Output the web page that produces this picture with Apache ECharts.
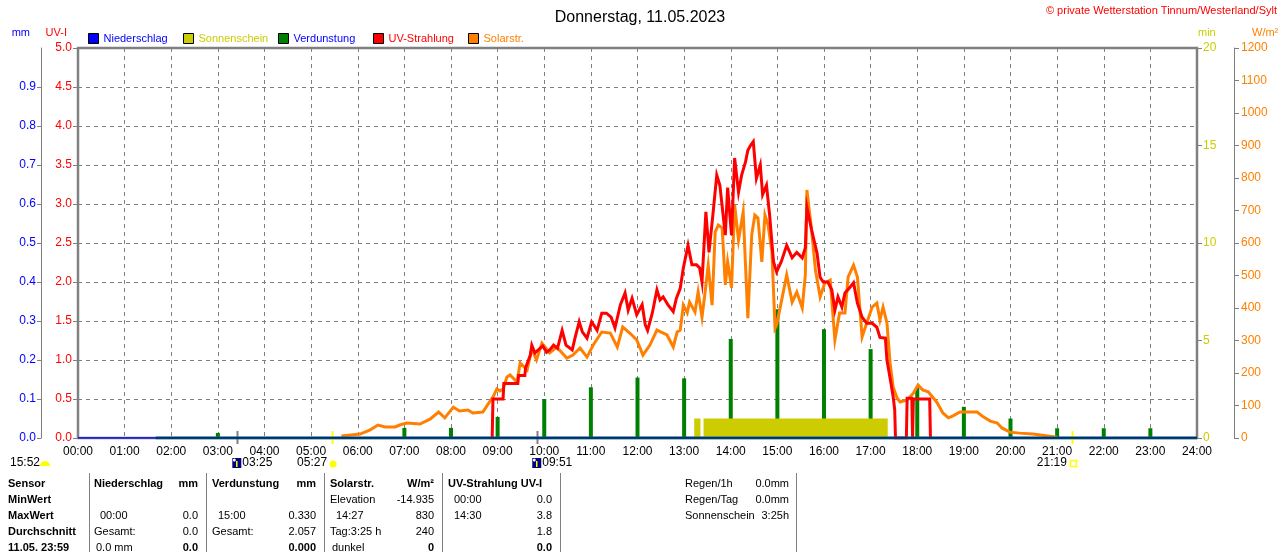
<!DOCTYPE html>
<html><head><meta charset="utf-8">
<script src="https://cdn.jsdelivr.net/npm/echarts@6/dist/echarts.min.js"></script>
<style>html,body{margin:0;padding:0;background:#fff}#c{width:1280px;height:552px}</style>
</head><body><div id="c"></div>
<script>
// ---------- DATA ----------
const solarTimes = ['05:39','06:03','06:16','06:26','06:35','06:48','06:54','07:03','07:20','07:33','07:44','07:52','08:03','08:11','08:22','08:28','08:41','08:47','08:54','08:59','09:03','09:07','09:12','09:16','09:25','09:29','09:38','09:44','09:50','09:57','10:07','10:16','10:29','10:37','10:46','10:55','11:03','11:14','11:25','11:34','11:41','11:50','11:59','12:07','12:16','12:25','12:38','12:46','12:51','12:55','12:59','13:04','13:07','13:14','13:18','13:23','13:27','13:31','13:36','13:40','13:44','13:49','13:53','13:56','14:01','14:05','14:10','14:16','14:22','14:27','14:31','14:35','14:40','14:44','14:48','14:53','14:57','14:59','15:05','15:12','15:19','15:25','15:32','15:36','15:38','15:44','15:49','15:55','16:01','16:08','16:14','16:20','16:27','16:31','16:38','16:43','16:49','16:55','17:02','17:08','17:12','17:16','17:21','17:25','17:29','17:34','17:38','17:47','17:55','18:01','18:07','18:14','18:25','18:33','18:40','18:46','18:55','19:04','19:17','19:25','19:34','19:43','19:49','19:59','20:12','20:29','20:48','21:00'];
const solarValues = [6,12,25,40,34,34,40,46,43,58,80,62,95,83,86,77,80,102,126,151,145,151,188,194,172,231,209,275,240,292,262,280,246,255,277,249,286,326,323,280,342,323,302,255,286,332,317,280,326,332,409,385,418,388,449,372,449,532,409,634,655,646,471,542,462,717,609,695,369,625,686,677,542,686,655,572,338,348,418,502,418,449,400,502,763,640,517,434,477,486,302,385,385,495,532,495,311,354,403,415,363,403,354,231,157,123,111,117,138,163,148,142,111,77,62,68,80,80,80,65,52,46,31,18,15,12,6,2];

const uvTimes = ['08:53','08:54','09:07','09:08','09:26','09:27','09:35','09:36','09:42','09:44','09:48','09:58','10:03','10:07','10:12','10:17','10:23','10:28','10:36','10:40','10:45','10:49','10:55','11:01','11:08','11:14','11:20','11:26','11:31','11:38','11:44','11:48','11:53','11:59','12:06','12:10','12:13','12:19','12:25','12:29','12:33','12:39','12:46','12:50','12:55','12:59','13:05','13:10','13:16','13:20','13:23','13:28','13:32','13:37','13:42','13:46','13:53','13:56','14:01','14:05','14:10','14:14','14:19','14:22','14:26','14:29','14:33','14:38','14:41','14:46','14:50','14:55','14:59','15:05','15:12','15:19','15:25','15:32','15:36','15:38','15:44','15:51','15:55','15:59','16:05','16:10','16:14','16:18','16:23','16:27','16:34','16:38','16:43','16:49','16:55','17:02','17:08','17:12','17:19','17:21','17:26','17:29','17:31','17:32','17:46','17:47','17:53','17:54','17:55','18:16','18:17'];
const uvValues = [0,0.5,0.5,0.7,0.7,0.8,0.8,0.9,1.06,1.19,1.09,1.18,1.1,1.13,1.19,1.15,1.38,1.19,1.13,1.3,1.49,1.36,1.28,1.49,1.38,1.6,1.6,1.55,1.41,1.71,1.86,1.64,1.79,1.58,1.71,1.45,1.38,1.6,1.9,1.77,1.81,1.71,1.62,1.79,1.92,2.18,2.47,2.22,2.22,2.18,2.0,2.9,2.38,2.86,3.37,3.24,2.6,3.21,2.6,3.59,3.15,3.37,3.54,3.69,3.76,3.8,3.33,3.5,3.12,3.24,2.86,2.26,2.13,2.26,2.47,2.31,2.38,2.31,2.44,2.96,2.67,2.37,2.06,2.0,2.0,1.9,1.64,1.81,1.68,1.86,1.94,1.99,1.73,1.55,1.47,1.47,1.42,1.29,1.28,1.0,0.71,0.53,0.36,0,0,0.51,0.51,0,0.5,0.5,0];

const evapTimes = ['03:00','07:00','08:00','09:00','10:00','11:00','12:00','13:00','14:00','15:00','16:00','17:00','18:00','19:00','20:00','21:00','22:00','23:00'];
const evapValues = [0.013,0.026,0.026,0.054,0.10,0.13,0.155,0.153,0.254,0.330,0.279,0.228,0.13,0.08,0.05,0.025,0.025,0.025];
const evapBaseTimes = ['01:40','24:00'];
const evapBaseValues = [0,0];

const precipTimes = ['00:00','24:00'];
const precipValues = [0,0];

const sunStarts = ['13:13','13:25'];
const sunEnds = ['13:21','17:22'];
const sunMinutesPerMinute = 1;

const hourLabels = ['00:00','01:00','02:00','03:00','04:00','05:00','06:00','07:00','08:00','09:00','10:00','11:00','12:00','13:00','14:00','15:00','16:00','17:00','18:00','19:00','20:00','21:00','22:00','23:00','24:00'];

const legendNames = ['Niederschlag','Sonnenschein','Verdunstung','UV-Strahlung','Solarstr.'];
const legendTextColors = ['#0000ff','#cccc00','#0000ff','#ff0000','#ff8000'];

const rowLabels = ['Sensor','MinWert','MaxWert','Durchschnitt','11.05. 23:59'];
const colNieder = [['Niederschlag','mm'],['',''],['00:00','0.0'],['Gesamt:','0.0'],['0.0 mm','0.0']];
const colVerd = [['Verdunstung','mm'],['',''],['15:00','0.330'],['Gesamt:','2.057'],['','0.000']];
const colSolar = [['Solarstr.','W/m²'],['Elevation','-14.935'],['14:27','830'],['Tag:3:25 h','240'],['dunkel','0']];
const colUV = [['UV-Strahlung UV-I',''],['00:00','0.0'],['14:30','3.8'],['','1.8'],['','0.0']];
const sideInfo = [['Regen/1h','0.0mm'],['Regen/Tag','0.0mm'],['Sonnenschein','3:25h']];

const astroLeft = '15:52';
const moonRise = '03:25';
const sunRise = '05:27';
const moonSet = '09:51';
const sunSet = '21:19';

// ---------- BUILD ----------
const FONT = '"Liberation Sans", Arial, sans-serif';
const toMin = s => { const p = s.split(':'); return (+p[0]) * 60 + (+p[1]); };
const pairs = (t, v) => t.map((s, i) => [toMin(s), v[i]]);
const sunData = [];
sunStarts.forEach((s, i) => {
  const a = toMin(s), b = toMin(sunEnds[i]);
  sunData.push([a, 0], [a, sunMinutesPerMinute], [b, sunMinutesPerMinute], [b, 0]);
});

const chart = echarts.init(document.getElementById('c'), null, {renderer: 'canvas'});
const GREY = '#808080';
const legends = legendNames.map((n, i) => ({
  left: 83 + i * 95, top: 28, itemWidth: 10, itemHeight: 10, icon: 'rect', selectedMode: false,
  itemStyle: {borderColor: '#000', borderWidth: 1},
  textStyle: {fontSize: 11, fontFamily: FONT, color: legendTextColors[i]},
  data: [n]
}));
const option = {
  animation: false,
  backgroundColor: '#fff',
  textStyle: {fontFamily: FONT},
  title: {text: 'Donnerstag, 11.05.2023', left: 'center', top: 5,
    textStyle: {fontSize: 16, fontWeight: 'normal', color: '#000', fontFamily: FONT}},
  legend: legends,
  grid: {left: 78, right: 83, top: 48, bottom: 114, show: true, borderColor: GREY, borderWidth: 2.5, backgroundColor: 'transparent'},
  xAxis: {
    type: 'value', min: 0, max: 1440, interval: 60,
    axisLine: {show: false}, axisTick: {show: false},
    axisLabel: {color: '#000', fontSize: 12, margin: 8, fontFamily: FONT, formatter: v => hourLabels[Math.round(v / 60)]},
    splitLine: {show: true, lineStyle: {color: GREY, type: [4, 4], width: 1}}
  },
  yAxis: [
    {type: 'value', min: 0, max: 5, interval: 0.5, position: 'left', offset: 0,
      axisLine: {show: true, lineStyle: {color: GREY}}, axisTick: {show: true, length: 5, lineStyle: {color: GREY}},
      axisLabel: {color: '#ff0000', fontSize: 12, margin: 6, fontFamily: FONT, formatter: v => v.toFixed(1)},
      splitLine: {show: true, lineStyle: {color: GREY, type: [4, 4], width: 1}}},
    {type: 'value', min: 0, max: 1, interval: 0.1, position: 'left', offset: 37,
      axisLine: {show: true, lineStyle: {color: GREY}}, axisTick: {show: true, length: 4, lineStyle: {color: GREY}},
      axisLabel: {color: '#0000ff', fontSize: 12, margin: 5, showMaxLabel: false, fontFamily: FONT, formatter: v => v.toFixed(1)},
      splitLine: {show: false}},
    {type: 'value', min: 0, max: 20, interval: 5, position: 'right', offset: 0,
      axisLine: {show: false}, axisTick: {show: true, length: 5, lineStyle: {color: GREY}},
      axisLabel: {color: '#cccc00', fontSize: 12, margin: 6, fontFamily: FONT, formatter: v => String(v)},
      splitLine: {show: false}},
    {type: 'value', min: 0, max: 1200, interval: 100, position: 'right', offset: 37,
      axisLine: {show: true, lineStyle: {color: GREY}}, axisTick: {show: true, length: 5, lineStyle: {color: GREY}},
      axisLabel: {color: '#ff8000', fontSize: 12, margin: 7, fontFamily: FONT, formatter: v => String(v)},
      splitLine: {show: false}}
  ],
  series: [
    {name: 'Sonnenschein', type: 'line', yAxisIndex: 2, data: sunData, symbol: 'none', color: '#cccc00',
      lineStyle: {width: 0}, areaStyle: {color: '#cccc00', opacity: 1}},
    {name: 'Solarstr.', type: 'line', yAxisIndex: 3, data: pairs(solarTimes, solarValues), symbol: 'none', color: '#ff8000',
      lineStyle: {width: 3, join: 'miter'}},
    {name: 'UV-Strahlung', type: 'line', yAxisIndex: 0, data: pairs(uvTimes, uvValues), symbol: 'none', color: '#ff0000',
      lineStyle: {width: 3, join: 'miter'}},
    {name: 'Verdunstung', type: 'bar', yAxisIndex: 1, data: pairs(evapTimes, evapValues), barWidth: 4, color: '#008000'},
    {name: 'Verdunstung', type: 'line', yAxisIndex: 1, data: pairs(evapBaseTimes, evapBaseValues), symbol: 'none', color: '#008000',
      lineStyle: {width: 3}},
    {name: 'Niederschlag', type: 'line', yAxisIndex: 1, data: pairs(precipTimes, precipValues), symbol: 'none', color: '#0000ff',
      lineStyle: {width: 1.5}}
  ]
};
chart.setOption(option);

// ---------- TEXT / ANNOTATIONS ----------
const g = [];
const txt = (x, y, s, o) => g.push(Object.assign({type: 'text', x: x, y: y, silent: true,
  style: Object.assign({text: s, fill: '#000', font: '11px ' + FONT, textVerticalAlign: 'middle'}, (o && o.style) || {})}, o && o.extra || {}));
txt(1277, 11, '© private Wetterstation Tinnum/Westerland/Sylt', {style: {fill: '#ff0000', textAlign: 'right', font: '11px ' + FONT}});
txt(30, 33, 'mm', {style: {fill: '#0000ff', textAlign: 'right'}});
txt(67, 33, 'UV-I', {style: {fill: '#ff0000', textAlign: 'right'}});
txt(1198, 33, 'min', {style: {fill: '#cccc00'}});
txt(1252, 33, 'W/m²', {style: {fill: '#ff8000'}});

const xp = t => chart.convertToPixel({xAxisIndex: 0}, toMin(t));
const y0 = chart.convertToPixel({yAxisIndex: 0}, 0);
[[moonRise, GREY], [moonSet, GREY], [sunRise, '#ffff00'], [sunSet, '#ffff00']].forEach(m => {
  const x = Math.round(xp(m[0])) + 0.5;
  g.push({type: 'line', silent: true, shape: {x1: x, y1: y0 - 7, x2: x, y2: y0 + 6}, style: {stroke: m[1], lineWidth: 2}});
});
const yRow = 463;
txt(10, yRow, astroLeft, {style: {font: '12px ' + FONT}});
g.push({type: 'sector', silent: true, shape: {cx: 45, cy: yRow + 3, r: 5, startAngle: Math.PI, endAngle: 2 * Math.PI}, style: {fill: '#ffff00'}});
const icon = (x) => {
  g.push({type: 'rect', silent: true, shape: {x: x, y: yRow - 5, width: 9, height: 10}, style: {fill: '#000080'}});
  g.push({type: 'line', silent: true, shape: {x1: x + 4.5, y1: yRow - 2, x2: x + 4.5, y2: yRow + 4}, style: {stroke: '#ffff00', lineWidth: 1.5}});
  g.push({type: 'circle', silent: true, shape: {cx: x + 2, cy: yRow - 3, r: 1.5}, style: {fill: '#fff'}});
};
const xr = xp(moonRise); icon(xr - 5); txt(xr + 5, yRow, moonRise, {style: {font: '12px ' + FONT}});
const xs = xp(moonSet); icon(xs - 5); txt(xs + 5, yRow, moonSet, {style: {font: '12px ' + FONT}});
const xsr = xp(sunRise); txt(xsr - 5, yRow, sunRise, {style: {font: '12px ' + FONT, textAlign: 'right'}});
g.push({type: 'circle', silent: true, shape: {cx: xsr + 1, cy: yRow + 1, r: 3.5}, style: {fill: '#ffff00'}});
const xss = xp(sunSet); txt(xss - 5, yRow, sunSet, {style: {font: '12px ' + FONT, textAlign: 'right'}});
g.push({type: 'rect', silent: true, shape: {x: xss - 1.5, y: yRow - 2.5, width: 6, height: 6}, style: {fill: '#fff', stroke: '#ffff00', lineWidth: 1.5}});

const rowsY = [484, 500, 516, 532, 548];
[89, 206, 324, 442, 560, 796].forEach(x => g.push({type: 'line', silent: true, shape: {x1: x + 0.5, y1: 473, x2: x + 0.5, y2: 552}, style: {stroke: GREY, lineWidth: 1}}));
const B = 'bold 11px ' + FONT, N = '11px ' + FONT;
rowLabels.forEach((s, i) => txt(8, rowsY[i], s, {style: {font: B}}));
const cols = [[colNieder, 94, 198], [colVerd, 212, 316], [colSolar, 330, 434], [colUV, 448, 552]];
cols.forEach(c => {
  c[0].forEach((cell, i) => {
    const bold = i === 0;
    const indent = /^\d\d:\d\d$/.test(cell[0]) ? 6 : (i === 4 && cell[0] ? 2 : 0);
    if (cell[0]) txt(c[1] + indent, rowsY[i], cell[0], {style: {font: bold ? B : N}});
    if (cell[1]) txt(c[2], rowsY[i], cell[1], {style: {font: (bold || i === 4) ? B : N, textAlign: 'right'}});
  });
});
sideInfo.forEach((r, i) => {
  txt(685, rowsY[i], r[0], {style: {font: N}});
  txt(789, rowsY[i], r[1], {style: {font: N, textAlign: 'right'}});
});
chart.setOption({graphic: g});
</script>
</body></html>
